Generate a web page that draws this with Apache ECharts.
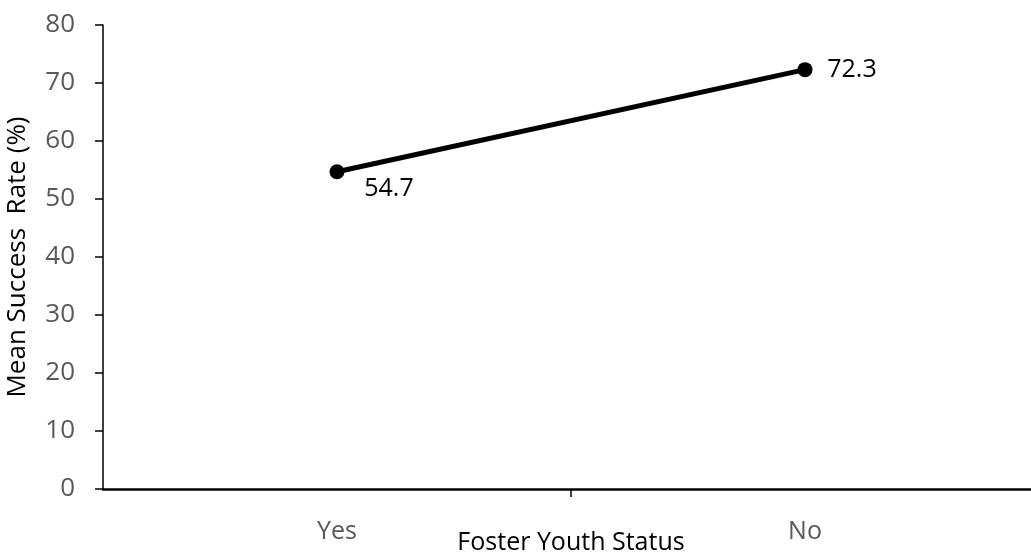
<!DOCTYPE html>
<html>
<head>
<meta charset="utf-8">
<script src="https://cdn.jsdelivr.net/npm/echarts@6/dist/echarts.min.js"></script>
<style>
  html, body { margin: 0; padding: 0; background: #fff; }
  #chart { width: 1031px; height: 552px; }
</style>
</head>
<body>
<div id="chart"></div>
<script>
// Mean success rate by foster youth status
const categories = ['Yes', 'No'];
const successRate = [54.7, 72.3];
const yTicks = { min: 0, max: 80, interval: 10 };

const FONT = "'Open Sans', 'Liberation Sans', sans-serif";

const chart = echarts.init(document.getElementById('chart'));
chart.setOption({
  animation: false,
  grid: { left: 103, top: 25, width: 936, height: 464, outerBoundsMode: 'none', containLabel: false },
  xAxis: [{
    type: 'category',
    data: categories,
    boundaryGap: true,
    name: 'Foster Youth Status',
    nameLocation: 'middle',
    nameMoveOverlap: false,
    nameGap: 41,
    nameTextStyle: { color: '#000', fontSize: 25, fontFamily: FONT },
    axisLine: { lineStyle: { color: '#000', width: 2.5 } },
    axisTick: { show: false },
    axisLabel: { margin: 30, color: '#595959', fontSize: 25, fontFamily: FONT },
    splitLine: { show: false }
  }, {
    // helper axis: a single tick on the divider between the two categories
    type: 'value',
    position: 'bottom',
    min: 0,
    max: categories.length,
    interval: 1,
    axisLine: { show: false },
    axisLabel: { show: false },
    splitLine: { show: false },
    axisTick: { show: true, length: 8, customValues: [1], lineStyle: { color: '#000', width: 1.5 } }
  }],
  yAxis: {
    type: 'value',
    min: yTicks.min,
    max: yTicks.max,
    interval: yTicks.interval,
    name: 'Mean Success  Rate (%)',
    nameLocation: 'middle',
    nameMoveOverlap: false,
    nameGap: 72,
    nameTextStyle: { color: '#000', fontSize: 26, fontFamily: FONT },
    axisLine: { show: true, lineStyle: { color: '#000', width: 1.5 } },
    axisTick: { show: true, length: 8, lineStyle: { color: '#000', width: 1.5 } },
    axisLabel: { margin: 28, color: '#595959', fontSize: 26, fontFamily: FONT },
    splitLine: { show: false }
  },
  series: [{
    type: 'line',
    xAxisIndex: 0,
    data: successRate.map((v, i) => ({
      value: v,
      label: i === 0
        ? { offset: [52, 17], position: 'inside' }
        : { offset: [47, 0], position: 'inside' }
    })),
    symbol: 'circle',
    symbolSize: 15,
    itemStyle: { color: '#000' },
    lineStyle: { color: '#000', width: 5 },
    label: {
      show: true,
      color: '#000',
      fontSize: 25,
      fontFamily: FONT,
      formatter: p => p.value.toFixed(1)
    }
  }]
});
</script>
</body>
</html>
